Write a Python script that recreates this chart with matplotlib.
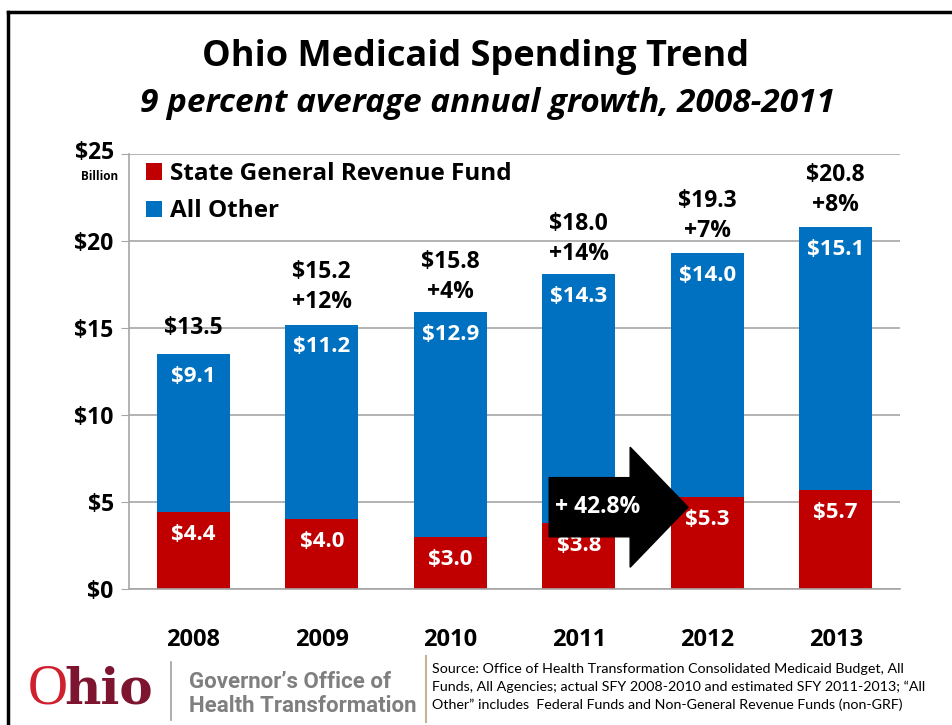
import matplotlib
matplotlib.use("Agg")
import matplotlib.pyplot as plt
import matplotlib.transforms as mtransforms
from matplotlib.patches import Patch, Polygon
from matplotlib.lines import Line2D

years = ["2008", "2009", "2010", "2011", "2012", "2013"]
state_grf = [4.4, 4.0, 3.0, 3.8, 5.3, 5.7]
all_other = [9.1, 11.2, 12.9, 14.3, 14.0, 15.1]
totals = [13.5, 15.2, 15.8, 18.0, 19.3, 20.8]
growth = ["", "+12%", "+4%", "+14%", "+7%", "+8%"]
yticks = [0, 5, 10, 15, 20, 25]
ytick_labels = ["$0", "$5", "$10", "$15", "$20", "$25"]
arrow_label = "+ 42.8%"

RED = "#C00000"
BLUE = "#0070C0"
W, H = 952, 725

plt.rcParams["font.family"] = ["Open Sans", "DejaVu Sans"]
plt.rcParams["font.weight"] = "bold"

fig = plt.figure(figsize=(W / 100, H / 100), dpi=100)


def fx(x):
    return x / W


def fy(y):
    return 1 - y / H


ax = fig.add_axes([fx(129), fy(589), fx(900) - fx(129), fy(154) - fy(589)])
x = list(range(len(years)))
ax.bar(x, state_grf, width=0.57, color=RED, zorder=2)
ax.bar(x, all_other, width=0.57, bottom=state_grf, color=BLUE, zorder=2)

ax.set_xlim(-0.5, len(years) - 0.5)
ax.set_ylim(0, 25)
ax.set_yticks(yticks)
ax.set_yticklabels(ytick_labels, fontweight="bold")
ax.set_xticks(x)
ax.set_xticklabels(years, fontweight="bold")
ax.yaxis.grid(True, color="#a6a6a6", linewidth=1.2, zorder=0)
ax.set_axisbelow(True)
for side in ["top", "right"]:
    ax.spines[side].set_visible(False)
ax.spines["left"].set_color("#a6a6a6")
ax.spines["bottom"].set_color("#a6a6a6")
ax.spines["left"].set_linewidth(1.2)
ax.spines["bottom"].set_linewidth(1.2)
ax.tick_params(axis="y", length=6, color="#a6a6a6", labelsize=16.5, pad=5)
ax.tick_params(axis="x", length=0, labelsize=17, pad=28)
# nudge the top label up a little so the "Billion" unit fits below it
top_label = ax.get_yticklabels()[-1]
top_label.set_transform(top_label.get_transform()
                        + mtransforms.ScaledTranslation(0, 3 / 72, fig.dpi_scale_trans))

# segment and total labels
for i in x:
    top = state_grf[i] + all_other[i]
    ax.annotate(f"${state_grf[i]:.1f}", (i, state_grf[i]), xytext=(0, -16),
                textcoords="offset points", ha="center", va="center",
                color="white", fontsize=16, fontweight="bold", zorder=3)
    ax.annotate(f"${all_other[i]:.1f}", (i, top), xytext=(0, -16),
                textcoords="offset points", ha="center", va="center",
                color="white", fontsize=16, fontweight="bold", zorder=3)
    if growth[i]:
        ax.annotate(growth[i], (i, totals[i]), xytext=(0, 16),
                    textcoords="offset points", ha="center", va="center",
                    fontsize=16.5, fontweight="bold", zorder=3)
        ax.annotate(f"${totals[i]:.1f}", (i, totals[i]), xytext=(0, 37.5),
                    textcoords="offset points", ha="center", va="center",
                    fontsize=16.5, fontweight="bold", zorder=3)
    else:
        ax.annotate(f"${totals[i]:.1f}", (i, totals[i]), xytext=(0, 19),
                    textcoords="offset points", ha="center", va="center",
                    fontsize=16.5, fontweight="bold", zorder=3)

# block arrow from 2011 into 2012
ay, body, head = 4.7, 1.7, 3.45
x0, xh, xt = 2.77, 3.40, 3.85
arrow = Polygon([(x0, ay - body), (xh, ay - body), (xh, ay - head), (xt, ay),
                 (xh, ay + head), (xh, ay + body), (x0, ay + body)],
                closed=True, facecolor="black", edgecolor="black", zorder=4)
ax.add_patch(arrow)
ax.text(3.15, ay, arrow_label, ha="center", va="center", color="white",
        fontsize=16.5, fontweight="bold", zorder=5)

handles = [Patch(facecolor=RED, edgecolor="none"), Patch(facecolor=BLUE, edgecolor="none")]
ax.legend(handles, ["State General Revenue Fund", "All Other"], loc="upper left",
          bbox_to_anchor=(0.003, 1.015), frameon=False,
          prop={"size": 17.5, "weight": "bold"},
          handlelength=0.65, handleheight=0.65, handletextpad=0.35,
          labelspacing=0.55, borderaxespad=0.2)

fig.text(fx(100), fy(177), "Billion", ha="center", va="center", fontsize=8.5, fontweight="bold")

fig.text(0.5, fy(57), "Ohio Medicaid Spending Trend", ha="center", va="center",
         fontsize=26, fontweight="bold")
fig.text(fx(487), fy(104), "9 percent average annual growth, 2008-2011", ha="center",
         va="center", fontsize=24, fontweight="bold", style="italic")

# slide frame
fig.add_artist(Line2D([fx(8), fx(8)], [0, fy(12)], color="black", linewidth=2.5))
fig.add_artist(Line2D([fx(8), 1], [fy(12), fy(12)], color="black", linewidth=2.5))

# footer: logo block and source note
fig.text(fx(28), fy(689), "O", ha="left", va="center", fontsize=40,
         family="Liberation Serif", fontweight="normal", color="#d0202e")
fig.text(fx(64), fy(690), "hio", ha="left", va="center", fontsize=36,
         family="DejaVu Serif", fontweight="bold", color="#7d1530")
fig.add_artist(Line2D([fx(171), fx(171)], [fy(662), fy(720)], color="#a0a0a0", linewidth=1.2))
fig.text(fx(189), fy(682), "Governor\u2019s Office of", ha="left", va="center",
         fontsize=16, family="Roboto", fontweight="bold", color="#7f7f7f")
fig.text(fx(189), fy(706), "Health Transformation", ha="left", va="center",
         fontsize=16, family="Roboto", fontweight="bold", color="#7f7f7f")
fig.add_artist(Line2D([fx(426), fx(426)], [fy(656), fy(722)], color="#c4b494", linewidth=1.5))
source = ("Source: Office of Health Transformation Consolidated Medicaid Budget, All\n"
          "Funds, All Agencies; actual SFY 2008-2010 and estimated SFY 2011-2013; \u201cAll\n"
          "Other\u201d includes  Federal Funds and Non-General Revenue Funds (non-GRF)")
fig.text(fx(432), fy(687), source, ha="left", va="center", fontsize=10.3,
         family="Lato", fontweight="normal", linespacing=1.55)

fig.savefig("out.png", dpi=100)
